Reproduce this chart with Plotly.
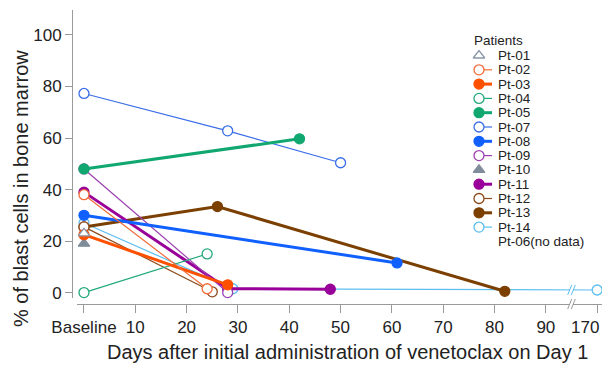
import numpy as np
import plotly.graph_objects as go

# ---------------- data (days after start, % blasts in bone marrow) ----------------
PATIENTS = ["Pt-01", "Pt-02", "Pt-03", "Pt-04", "Pt-05", "Pt-07", "Pt-08",
            "Pt-09", "Pt-10", "Pt-11", "Pt-12", "Pt-13", "Pt-14"]
NO_DATA_LABEL = "Pt-06(no data)"

PT01_DAYS = [0];          PT01_BLAST = [23]
PT02_DAYS = [0, 24];      PT02_BLAST = [38, 1.5]
PT03_DAYS = [0, 28];      PT03_BLAST = [22.5, 3]
PT04_DAYS = [0, 24];      PT04_BLAST = [0, 15]
PT05_DAYS = [0, 42];      PT05_BLAST = [48, 59.7]
PT07_DAYS = [0, 28, 50];  PT07_BLAST = [77.3, 62.8, 50.4]
PT08_DAYS = [0, 61];      PT08_BLAST = [30, 11.5]
PT09_DAYS = [0, 28];      PT09_BLAST = [48, 0]
PT10_DAYS = [0];          PT10_BLAST = [19]
PT11_DAYS = [0, 28, 48];  PT11_BLAST = [39, 1.5, 1.3]
PT12_DAYS = [0, 25];      PT12_BLAST = [25.5, 0.3]
PT13_DAYS = [0, 26, 82];  PT13_BLAST = [25.5, 33.4, 0.5]
PT14_DAYS = [0, 29, 170]; PT14_BLAST = [27, 1.5, 1]

TICK_DAYS = [0, 10, 20, 30, 40, 50, 60, 70, 80, 90, 170]
TICK_LABELS = ["Baseline", "10", "20", "30", "40", "50", "60", "70", "80", "90", "170"]
Y_TICKS = [0, 20, 40, 60, 80, 100]

# broken x axis: days beyond 90 are shifted left
BREAK_AFTER = 90
BREAK_SHIFT = 70
BREAK_MARK = 95


def xpos(days):
    return [d if d <= BREAK_AFTER else d - BREAK_SHIFT for d in days]


SERIES = {
    "Pt-01": (PT01_DAYS, PT01_BLAST),
    "Pt-02": (PT02_DAYS, PT02_BLAST),
    "Pt-03": (PT03_DAYS, PT03_BLAST),
    "Pt-04": (PT04_DAYS, PT04_BLAST),
    "Pt-05": (PT05_DAYS, PT05_BLAST),
    "Pt-07": (PT07_DAYS, PT07_BLAST),
    "Pt-08": (PT08_DAYS, PT08_BLAST),
    "Pt-09": (PT09_DAYS, PT09_BLAST),
    "Pt-10": (PT10_DAYS, PT10_BLAST),
    "Pt-11": (PT11_DAYS, PT11_BLAST),
    "Pt-12": (PT12_DAYS, PT12_BLAST),
    "Pt-13": (PT13_DAYS, PT13_BLAST),
    "Pt-14": (PT14_DAYS, PT14_BLAST),
}

# ---------------- styles ----------------
# (color, filled, symbol)
STYLE = {
    "Pt-01": ("#8a96a8", False, "triangle-up"),
    "Pt-02": ("#f26b38", False, "circle"),
    "Pt-03": ("#ff5000", True, "circle"),
    "Pt-04": ("#23a97a", False, "circle"),
    "Pt-05": ("#10a870", True, "circle"),
    "Pt-07": ("#3a6ee8", False, "circle"),
    "Pt-08": ("#1060ff", True, "circle"),
    "Pt-09": ("#9b3fb0", False, "circle"),
    "Pt-10": ("#7f8c9a", True, "triangle-up"),
    "Pt-11": ("#990099", True, "circle"),
    "Pt-12": ("#8b4a1c", False, "circle"),
    "Pt-13": ("#7b3f00", True, "circle"),
    "Pt-14": ("#5cbef0", False, "circle"),
}
THIN, THICK = 1.2, 3.0
MSIZE = 10
FONT = "Liberation Sans, Arial, sans-serif"
TXT = "#222222"
AXC = "#9a9a9a"
TICK_FONT = 17

# page geometry: the page body adds an 8px offset, so the figure is that much smaller
VIEW_W, VIEW_H = 610, 367
OFF = 8
W, H = VIEW_W - OFF, VIEW_H - OFF


def px_x(px):
    return (px - OFF) / W


def px_y(py):
    return 1 - (py - OFF) / H


# pixel layout (screen pixels)
X0_PX = 77                       # x axis line start
YAX_PX = 72                      # y axis line x position
XAX_PX = 304                     # x axis line y position
XLABEL_PX = 327                  # x tick label centre line
YTOP_PX, YBOT_PX = 10, 298       # y axis line extent
X_RANGE = [-1.36, 102.5]
Y_RANGE = [-2.1, 109.7]

fig = go.Figure()

# data traces (first patient drawn on top)
for p in reversed(PATIENTS):
    d, b = SERIES[p]
    col, filled, sym = STYLE[p]
    lw = THICK if filled else THIN
    fig.add_trace(go.Scatter(
        x=xpos(d), y=b, mode="lines+markers", name=p,
        line=dict(color=col, width=lw),
        marker=dict(symbol=sym, size=MSIZE,
                    color=col if filled else "white",
                    line=dict(color=col, width=1.3)),
        cliponaxis=False, showlegend=False, xaxis="x", yaxis="y"))

# manual legend on a pixel overlay axis
LEG_TITLE_Y = 41
LEG_ROW0_Y = 55.5
LEG_STEP = 14.3
LEG_MARK_X = 479
LEG_LINE_END = 492
LEG_TEXT_X = 496
LEG_FONT = 13.5

annotations = []
annotations.append(dict(x=px_x(472), y=px_y(LEG_TITLE_Y), xref="paper", yref="paper",
                        text="Patients", showarrow=False, xanchor="left", yanchor="middle",
                        font=dict(family=FONT, size=LEG_FONT, color=TXT)))
for i, p in enumerate(PATIENTS):
    col, filled, sym = STYLE[p]
    ry = LEG_ROW0_Y + i * LEG_STEP
    if sym == "circle":
        fig.add_trace(go.Scatter(
            x=[LEG_MARK_X, LEG_LINE_END], y=[ry, ry], mode="lines", xaxis="x2", yaxis="y2",
            line=dict(color=col, width=THICK if filled else THIN), showlegend=False, hoverinfo="skip"))
    fig.add_trace(go.Scatter(
        x=[LEG_MARK_X], y=[ry], mode="markers", xaxis="x2", yaxis="y2",
        marker=dict(symbol=sym, size=MSIZE, color=col if filled else "white",
                    line=dict(color=col, width=1.3)),
        showlegend=False, hoverinfo="skip", cliponaxis=False))
    annotations.append(dict(x=px_x(LEG_TEXT_X), y=px_y(ry), xref="paper", yref="paper",
                            text=p, showarrow=False, xanchor="left", yanchor="middle",
                            font=dict(family=FONT, size=LEG_FONT, color=TXT)))
ry = LEG_ROW0_Y + len(PATIENTS) * LEG_STEP
annotations.append(dict(x=px_x(LEG_TEXT_X), y=px_y(ry), xref="paper", yref="paper",
                        text=NO_DATA_LABEL, showarrow=False, xanchor="left", yanchor="middle",
                        font=dict(family=FONT, size=LEG_FONT, color=TXT)))

# axis titles
annotations.append(dict(x=px_x(347.5), y=px_y(352), xref="paper", yref="paper",
                        text="Days after initial administration of venetoclax on Day 1",
                        showarrow=False, xanchor="center", yanchor="middle",
                        font=dict(family=FONT, size=20, color=TXT)))
annotations.append(dict(x=px_x(21), y=px_y(189), xref="paper", yref="paper",
                        text="% of blast cells in bone marrow", textangle=-90,
                        showarrow=False, xanchor="center", yanchor="middle",
                        font=dict(family=FONT, size=20, color=TXT)))

# last tick label (after the break) kept fully inside the visible page edge
tick_pos = xpos(TICK_DAYS)
annotations.append(dict(x=tick_pos[-1], y=px_y(XLABEL_PX), xref="x", yref="paper",
                        text=TICK_LABELS[-1], showarrow=False, xanchor="right",
                        yanchor="middle", xshift=4,
                        font=dict(family=FONT, size=TICK_FONT, color=TXT)))
axis_ticktext = TICK_LABELS[:-1] + [""]

# axis-break marks
shapes = []
xax_paper = px_y(XAX_PX)
pt14_at_break = float(np.interp(BREAK_MARK, xpos(PT14_DAYS), PT14_BLAST))


def break_marks(yref, yanchor, color):
    out = [dict(type="rect", xref="x", yref=yref, xsizemode="pixel", ysizemode="pixel",
                xanchor=BREAK_MARK, yanchor=yanchor, x0=-1.5, x1=1.5, y0=-2, y1=2,
                fillcolor="white", line=dict(width=0), layer="above")]
    for off in (-1.8, 1.8):
        out.append(dict(type="line", xref="x", yref=yref, xsizemode="pixel", ysizemode="pixel",
                        xanchor=BREAK_MARK, yanchor=yanchor,
                        x0=off - 2, y0=-5, x1=off + 2, y1=5,
                        line=dict(color=color, width=1), layer="above"))
    return out


shapes += break_marks("paper", xax_paper, AXC)
shapes += break_marks("y", pt14_at_break, STYLE["Pt-14"][0])

fig.update_layout(
    template="none",
    width=W, height=H, autosize=False,
    margin=dict(l=0, r=0, t=0, b=0, pad=0),
    paper_bgcolor="white", plot_bgcolor="rgba(0,0,0,0)",
    showlegend=False,
    xaxis=dict(domain=[px_x(X0_PX), 1], range=X_RANGE, anchor="free", position=xax_paper,
               automargin=False, ticklabeloverflow="allow",
               showline=True, linecolor=AXC, linewidth=1, ticks="outside", ticklen=8,
               tickcolor=AXC, tickwidth=1, tickvals=tick_pos, ticktext=axis_ticktext,
               showgrid=False, zeroline=False,
               tickfont=dict(family=FONT, size=TICK_FONT, color=TXT)),
    yaxis=dict(domain=[px_y(YBOT_PX), px_y(YTOP_PX)], range=Y_RANGE, anchor="free",
               position=px_x(YAX_PX), automargin=False, showline=True, linecolor=AXC,
               linewidth=1, ticks="outside", ticklen=7, tickcolor=AXC, tickwidth=1,
               tickvals=Y_TICKS, showgrid=False, zeroline=False,
               tickfont=dict(family=FONT, size=TICK_FONT, color=TXT)),
    xaxis2=dict(domain=[0, 1], range=[OFF, VIEW_W], visible=False, anchor="y2",
                fixedrange=True, automargin=False),
    yaxis2=dict(domain=[0, 1], range=[VIEW_H, OFF], visible=False, anchor="x2",
                fixedrange=True, automargin=False),
    annotations=annotations,
    shapes=shapes,
)

fig.write_html("out.html")
